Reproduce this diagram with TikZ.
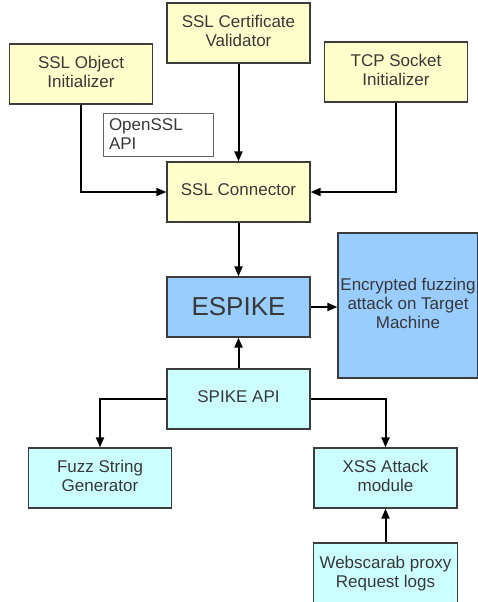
\documentclass[tikz,border=0pt]{standalone}
\usepackage{fontspec}
\setmainfont{Liberation Sans}
\usepackage{tikz}
\usetikzlibrary{arrows.meta,positioning,calc}

\definecolor{sslyellow}{HTML}{FFFFCC}
\definecolor{espblue}{HTML}{99CCFF}
\definecolor{spkcyan}{HTML}{CCFFFF}
\definecolor{boxline}{HTML}{3C3C3C}
\definecolor{boxtext}{HTML}{383838}
\newcommand{\boxfont}{\fontsize{17}{19}\selectfont}

\tikzset{
	block/.style={draw=boxline, line width=1.3pt, text=boxtext, font=\boxfont,
		minimum width=143pt, minimum height=60pt, inner sep=0pt},
	sslbox/.style={block, fill=sslyellow},
	espbox/.style={block, fill=espblue},
	spkbox/.style={block, fill=spkcyan},
	apibox/.style={draw=boxline!80, line width=1pt, text=boxtext, font=\boxfont,
		text width=98pt, align=left, minimum height=43pt, inner sep=6pt}
}

\begin{document}
\begin{tikzpicture}[x=1pt, y=-1pt, ->, >={Triangle[length=10pt,width=8pt]}, line width=2pt]

	\useasboundingbox (0,0) rectangle (477,602);

	\node[sslbox, shift = {(238.5, 33.0)}] (cert_val) {
		\begin{tabular}{c}
			SSL Certificate\\
			Validator
		\end{tabular}
	};

	\node[sslbox, shift = {(81.0, 74.0)}] (obj_init) {
		\begin{tabular}{c}
			SSL Object\\
			Initializer
		\end{tabular}
	};

	\node[sslbox, shift = {(396.0, 72.0)}] (tcp_init) {
		\begin{tabular}{c}
			TCP Socket\\
			Initializer
		\end{tabular}
	};

	\node[apibox, shift = {(158.0, 134.5)}] (openssl) {OpenSSL\\API};

	\node[sslbox, shift = {(238.5, 192.0)}] (ssl_con) {
		\begin{tabular}{c}
			SSL Connector
		\end{tabular}
	};

	\node[espbox, font=\fontsize{26}{30}\selectfont, shift = {(238.5, 307.0)}] (espike) {ESPIKE};

	\node[espbox, minimum width=140pt, minimum height=145pt, shift = {(408.0, 305.5)}] (enc_atk) {
		\begin{tabular}{@{}c@{}}
			Encrypted fuzzing\\
			attack on Target\\
			Machine
		\end{tabular}
	};

	\node[spkbox, shift = {(238.5, 399.0)}] (spk_api) {
		\begin{tabular}{c}
			SPIKE API
		\end{tabular}
	};

	\node[spkbox, shift = {(100.0, 478.0)}] (fuzz_gen) {
		\begin{tabular}{c}
			Fuzz String\\
			Generator
		\end{tabular}
	};

	\node[spkbox, shift = {(385.5, 478.0)}] (xss_mod) {
		\begin{tabular}{c}
			XSS Attack\\
			module
		\end{tabular}
	};

	\node[spkbox, minimum height=62pt, shift = {(385.5, 574.0)}] (ws_logs) {
		\begin{tabular}{c}
			Webscarab proxy\\
			Request logs
		\end{tabular}
	};

	% SSL side
	\path[->] (cert_val.south) edge [] (ssl_con.north);
	\draw (obj_init.south) |- (ssl_con.west);
	\draw (tcp_init.south) |- (ssl_con.east);
	\path[->] (ssl_con.south) edge [] (espike.north);
	\path[->] (espike.east) edge [] (espike.east -| enc_atk.west);

	% SPIKE side
	\path[->] (spk_api.north) edge [] (espike.south);
	\draw (spk_api.west) -| (fuzz_gen.north);
	\draw (spk_api.east) -| (xss_mod.north);
	\path[->] (ws_logs.north) edge [] (xss_mod.south);
\end{tikzpicture}
\end{document}
